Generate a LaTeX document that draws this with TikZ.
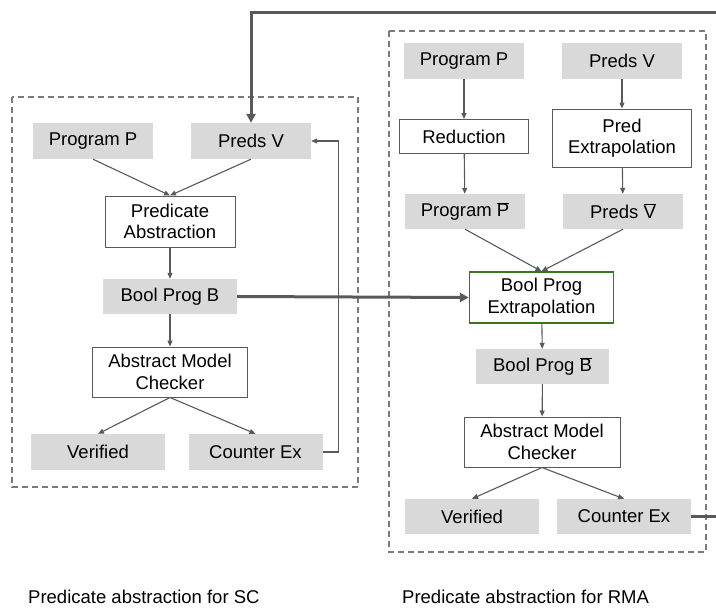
\documentclass[tikz,border=0pt]{standalone}
\usepackage{fontspec}
\setmainfont{Liberation Sans}
\usetikzlibrary{arrows.meta}
\definecolor{boxgray}{HTML}{D9D9D9}
\definecolor{linegray}{HTML}{595959}
\definecolor{darkgreen}{HTML}{38761D}

\begin{document}
\begin{tikzpicture}[x=1pt,y=-1pt]
		% Define the looks of boxes and connectors
		\tikzset{
			gray box/.style={fill=boxgray, minimum width=120pt, minimum height=36pt,
				inner sep=0pt, font=\fontsize{18.5}{21.5}\selectfont},
			white box/.style={draw=linegray, line width=1pt, fill=white, align=center,
				inner sep=0pt, font=\fontsize{18.5}{21.5}\selectfont},
			green box/.style={white box, draw=darkgreen, line width=1.4pt},
			thin arrow/.style={draw=linegray, line width=1.1pt, -{Triangle[length=6pt,width=5pt]}},
			thick line/.style={draw=linegray, line width=3pt},
			thick arrow/.style={thick line, -{Triangle[length=9pt,width=9pt]}},
			dashed frame/.style={draw=linegray!80, line width=1.1pt, dash pattern=on 6pt off 4pt}
		}
		\useasboundingbox (0,0) rectangle (716,608);
		
		% Dashed frames round the two flows
		\draw[dashed frame] (12,97) rectangle (358,487);
		\draw[dashed frame] (389,31) rectangle (706,552);
		
		%left flow (SC)
		\node[gray box] (pP) at (93,141) {Program P};
		\node[gray box] (pV) at (251,141) {Preds V};
		\node[white box, minimum width=130pt, minimum height=51pt] (pa) at (170,221.5) {Predicate\\Abstraction};
		\node[gray box, minimum width=134pt, minimum height=35pt] (bb) at (170,296.5) {Bool Prog B};
		\node[white box, minimum width=155pt, minimum height=50pt] (amc) at (170,372) {Abstract Model\\Checker};
		\node[gray box, minimum width=134pt] (ver) at (98,452) {Verified};
		\node[gray box, minimum width=134pt] (cex) at (255.5,452) {Counter Ex};
		
		\draw[thin arrow] (pP.south) -- (pa.north);
		\draw[thin arrow] (pV.south) -- (pa.north);
		\draw[thin arrow] (pa) -- (bb);
		\draw[thin arrow] (bb) -- (amc);
		\draw[thin arrow] (amc.south) -- (ver.north);
		\draw[thin arrow] (amc.south) -- (cex.north);
		% loop back from the counter example
		\draw[thin arrow] (cex.east) -- ++(16,0) |- (pV.east);
		
		%right flow (RMA)
		\node[gray box] (rpP) at (464,61) {Program P};
		\node[gray box] (rpV) at (622,61) {Preds V};
		\node[white box, minimum width=129pt, minimum height=34pt] (red) at (464,136.5) {Reduction};
		\node[white box, minimum width=139pt, minimum height=58pt] (pe) at (622,138) {Pred\\Extrapolation};
		\node[gray box, minimum height=35pt] (rpPb) at (465,211.5) {Program $\overline{\mbox{P}}$};
		\node[gray box, minimum height=35pt] (rpVb) at (623,211.5) {Preds $\overline{\mbox{V}}$};
		\node[green box, minimum width=144pt, minimum height=51pt] (bpe) at (541.5,297.5) {Bool Prog\\Extrapolation};
		\node[gray box, minimum width=133pt, minimum height=35pt] (bbb) at (542.5,366.5) {Bool Prog $\overline{\mbox{B}}$};
		\node[white box, minimum width=156pt, minimum height=50pt] (ramc) at (542,442) {Abstract Model\\Checker};
		\node[gray box, minimum width=134pt, minimum height=35pt] (rver) at (472,516.5) {Verified};
		\node[gray box, minimum width=134pt, minimum height=35pt] (rcex) at (624,516.5) {Counter Ex};
		
		\draw[thin arrow] (rpP) -- (red);
		\draw[thin arrow] (rpV) -- (pe);
		\draw[thin arrow] (red) -- (rpPb);
		\draw[thin arrow] (pe) -- (rpVb);
		\draw[thin arrow] (rpPb.south) -- (bpe.north);
		\draw[thin arrow] (rpVb.south) -- (bpe.north);
		\draw[thin arrow] (bpe) -- (bbb);
		\draw[thin arrow] (bbb) -- (ramc);
		\draw[thin arrow] (ramc.south) -- (rver.north);
		\draw[thin arrow] (ramc.south) -- (rcex.north);
		
		% thick links between the two flows
		\coordinate (topright) at (716,12);
		\coordinate (exitright) at (716,516.5);
		\draw[thick arrow] (topright) -| (pV.north);
		\draw[thick arrow] (bb.east) -- (bpe.west);
		\draw[thick line] (rcex.east) -- (exitright);
		
		% captions
		\node[anchor=base west, inner sep=0pt, font=\fontsize{18.5}{21.5}\selectfont] (capsc) at (28,603) {Predicate abstraction for SC};
		\node[anchor=base west, inner sep=0pt, font=\fontsize{18.5}{21.5}\selectfont] (caprma) at (402,603) {Predicate abstraction for RMA};
	\end{tikzpicture}
\end{document}
